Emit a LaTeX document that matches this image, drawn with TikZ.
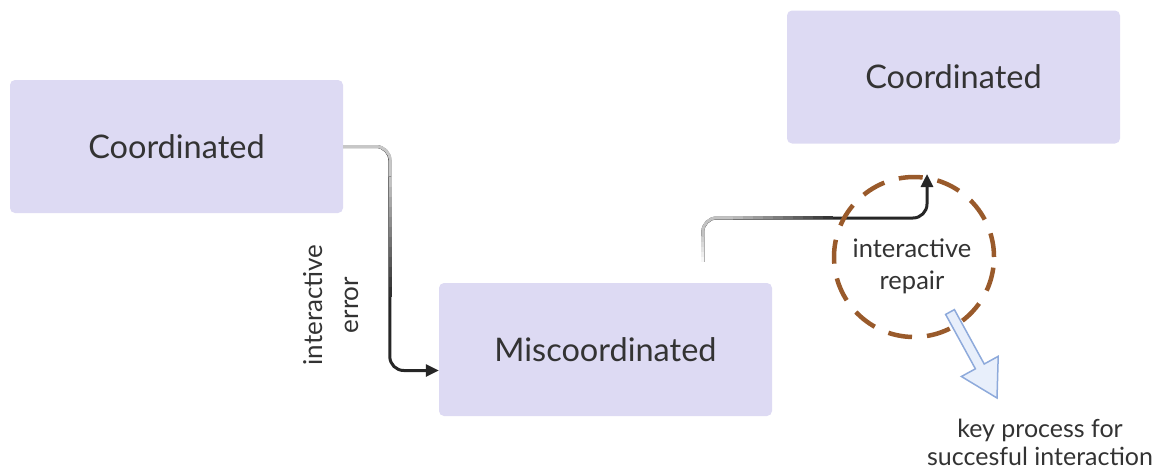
\documentclass[tikz,border=0pt]{standalone}
\usepackage{fontspec}
\setmainfont{Lato}
\usetikzlibrary{arrows.meta,calc}
\definecolor{boxfill}{HTML}{DDDAF3}
\definecolor{txt}{HTML}{333333}
\definecolor{brownd}{HTML}{995A2B}
\definecolor{arrfill}{HTML}{E8EFFB}
\definecolor{arrline}{HTML}{8EAADB}
\tikzset{
 box/.style={fill=boxfill, rounded corners=5pt, minimum width=333pt, minimum height=133pt, inner sep=0pt, text=txt, font=\fontsize{32.5}{38}\selectfont},
 lbl/.style={text=txt, font=\fontsize{25.5}{32}\selectfont, align=center, inner sep=0pt},
 conn/.style={line width=3pt, draw=black!85, rounded corners=14pt},
 piece/.style={line width=3pt},
 tip/.style={-{Triangle[length=13pt,width=12pt]}},
 ring/.style={draw=brownd, line width=4.5pt, dash pattern=on 24pt off 15pt, circle, minimum size=160pt, inner sep=0pt},
 bigarrow/.style={draw=arrline, fill=arrfill, line width=1.5pt},
}
\begin{document}
\begin{tikzpicture}[x=1pt,y=-1pt]
\useasboundingbox (0,0) rectangle (1161,469);
\node[box] (b1) at (176.5,146.5) {Coordinated};
\node[box] (b2) at (605.5,349.5) {Miscoordinated};
\node[box] (b3) at (953.5,77) {Coordinated};

% connector 1 (interactive error)
\coordinate (e1) at ($(b2.west)+(0,21)$);
\draw[conn,tip] (b1.east) -| ($(e1)+(-49,0)$) -- (e1);
\draw[piece, draw=black!22, rounded corners=14pt] (b1.east) -| ($(b1.east)+(47,30)$);
\foreach \i in {0,...,11}{
  \pgfmathsetmacro\c{24+5.2*\i}
  \draw[piece, draw=black!\c] ($(b1.east)+(47,30+10*\i)$) -- ++(0,10.5);
}
\node[lbl, rotate=90, font=\fontsize{26}{36}\selectfont] (l1) at (331.5,305) {interactive\\error};

% connector 2 (interactive repair)
\coordinate (s2) at ($(b2.north west)+(264,-21)$);
\coordinate (t2) at (927,174);
\draw[conn,tip] (s2) |- ($(t2)+(0,44)$) -- (t2);
\foreach \i in {0,...,4}{
  \pgfmathsetmacro\c{3+4*\i}
  \draw[piece, draw=black!\c] ($(s2)+(0,-5*\i)$) -- ++(0,-5.5);
}
\draw[piece, draw=black!24, rounded corners=14pt] ($(s2)+(0,-25)$) |- ($(s2)+(30,-44)$);
\foreach \i in {0,...,9}{
  \pgfmathsetmacro\c{28+5.7*\i}
  \draw[piece, draw=black!\c] ($(s2)+(30+10*\i,-44)$) -- ++(10.5,0);
}

\node[ring] (rep) at (914,257) {};
\node[lbl] (rl) at (912,266) {interactive\\repair};

% block arrow
\draw[bigarrow] (954.4,309.6) -- (984.2,364.0) -- (998.2,356.3) -- (997,398) -- (961.4,376.5) -- (975.4,368.8) -- (945.6,314.4) -- cycle;
\node[lbl, font=\fontsize{25}{28}\selectfont] (key) at (1040,442) {key process for\\succesful interaction};
\end{tikzpicture}
\end{document}
